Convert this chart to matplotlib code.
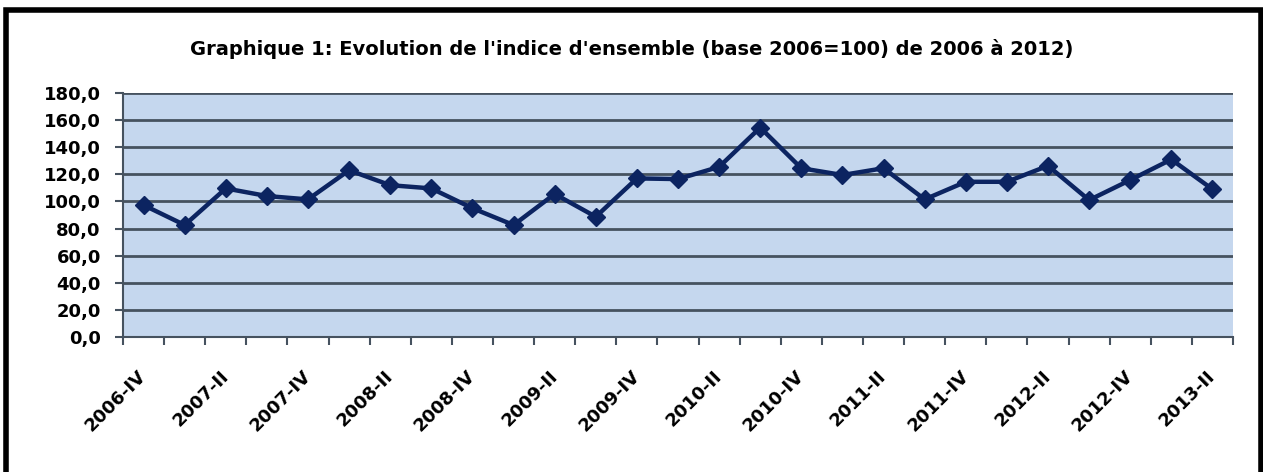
import matplotlib.pyplot as plt
import matplotlib.patches as mpatches
from matplotlib.ticker import FuncFormatter, MultipleLocator, FixedLocator
import numpy as np

# data

quarters = ['2006-IV',
            '2007-I', '2007-II', '2007-III', '2007-IV',
            '2008-I', '2008-II', '2008-III', '2008-IV',
            '2009-I', '2009-II', '2009-III', '2009-IV',
            '2010-I', '2010-II', '2010-III', '2010-IV',
            '2011-I', '2011-II', '2011-III', '2011-IV',
            '2012-I', '2012-II', '2012-III', '2012-IV',
            '2013-I', '2013-II']
indice = [97.3, 82.6, 109.6, 104.0, 101.5, 123.0, 112.0, 109.6, 95.0,
          82.6, 105.5, 88.7, 117.0, 116.5, 125.5, 154.5, 124.5, 119.5,
          124.5, 101.5, 114.5, 114.5, 126.3, 101.0, 115.8, 131.0, 109.0]
title = "Graphique 1: Evolution de l'indice d'ensemble (base 2006=100) de 2006 à 2012)"

plt.rcParams['font.family'] = ['DejaVu Sans']
plt.rcParams['font.weight'] = 'bold'

fig = plt.figure(figsize=(12.63, 4.72), dpi=100)
fig.patch.set_facecolor('white')

# black frame around the chart
frame = mpatches.Rectangle((5.5 / 1263, -0.02), 1 - 8 / 1263, 1 - 10 / 472 + 0.02,
                           transform=fig.transFigure, fill=False,
                           edgecolor='black', linewidth=4)
fig.patches.append(frame)

ax = fig.add_axes([123 / 1263, 1 - 337 / 472, 1110 / 1263, 244 / 472])
ax.set_facecolor('#c5d7ee')

x = np.arange(len(quarters))
ax.plot(x, indice, color='#0c2461', linewidth=3.2, marker='D',
        markersize=9.5, markerfacecolor='#0c2461', markeredgecolor='#0c2461',
        zorder=3)

ax.set_xlim(-0.5, len(quarters) - 0.5)
ax.set_ylim(0, 180)

# y axis
ax.yaxis.set_major_locator(MultipleLocator(20))
ax.yaxis.set_major_formatter(FuncFormatter(lambda v, p: f'{v:.1f}'.replace('.', ',')))
ax.grid(axis='y', color='#46525f', linewidth=2)
ax.set_axisbelow(True)
ax.tick_params(axis='y', length=6, width=1.5, color='#46525f', labelsize=13, pad=10)

# x axis: ticks between categories, labels every other quarter
ax.xaxis.set_major_locator(FixedLocator(x[::2]))
ax.set_xticklabels(quarters[::2], rotation=45, ha='right', va='center',
                   rotation_mode='anchor')
ax.xaxis.set_minor_locator(FixedLocator(np.arange(-0.5, len(quarters), 1)))
ax.tick_params(axis='x', which='major', length=0, labelsize=13, pad=26)
ax.tick_params(axis='x', which='minor', length=6, width=1.5, color='#46525f')

for side in ['top', 'right']:
    ax.spines[side].set_visible(False)
for side in ['left', 'bottom']:
    ax.spines[side].set_color('#46525f')
    ax.spines[side].set_linewidth(1.5)

fig.text(0.5, 1 - 49 / 472, title, ha='center', va='center',
         fontsize=14, fontweight='bold')

fig.savefig('out.png', dpi=100)
